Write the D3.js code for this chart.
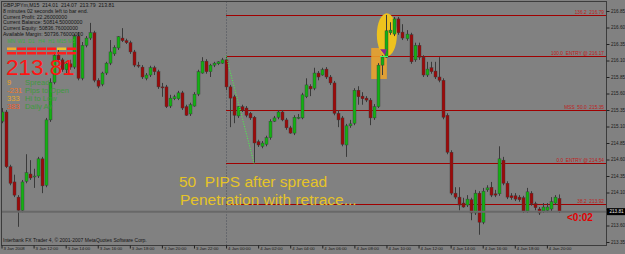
<!DOCTYPE html>
<html>
<head>
<meta charset="utf-8">
<script src="https://cdn.jsdelivr.net/npm/d3@7"></script>
<style>
html, body { margin: 0; padding: 0; background: #818181; }
svg { display: block; font-family: "Liberation Sans", Arial, sans-serif; }
text { white-space: pre; }
</style>
</head>
<body>
<svg id="chart" width="625" height="254"></svg>
<script>
// GBPJPYm M15 bars, 3 Jan 10:00 .. 4 Jan 20:45
var opens = [215.18,215.32,214.49,214.26,214.03,213.83,214.27,214.38,214.34,214.35,
  214.61,214.21,215.20,215.77,216.18,216.11,215.96,216.05,216.00,216.47,
  215.83,216.33,216.44,216.52,215.80,215.74,215.91,216.06,216.20,216.29,
  216.44,216.40,216.37,216.23,216.03,216.00,215.83,215.88,215.99,215.93,
  215.70,215.70,215.41,215.52,215.52,215.61,215.40,215.29,215.41,215.59,
  215.91,216.09,215.93,216.03,216.05,216.06,216.11,215.70,215.55,215.26,
  215.40,215.38,215.30,215.24,214.87,214.80,214.83,214.93,215.18,215.24,
  215.32,215.20,215.08,215.00,215.23,215.23,215.55,215.71,215.68,215.91,
  215.88,215.97,215.85,215.76,215.30,215.23,214.82,215.11,215.15,215.65,
  215.56,215.53,215.50,215.23,215.40,216.03,216.15,216.52,216.50,216.73,
  216.53,216.43,216.49,216.11,216.33,216.15,215.88,215.99,215.94,215.85,
  215.80,215.27,214.71,214.09,214.03,213.94,213.91,213.99,213.79,214.09,
  213.65,214.14,214.18,214.08,214.08,214.59,214.24,214.05,214.05,214.03,
  214.02,213.82,214.09,213.93,213.85,213.82,213.83,213.85,213.94,214.01];
var highs = [215.38,215.35,214.52,214.37,214.06,214.29,214.68,214.59,214.46,214.64,
  214.64,215.23,215.83,216.23,216.26,216.14,216.08,216.11,216.50,216.53,
  216.38,216.47,216.67,216.55,215.83,215.93,216.08,216.41,216.33,216.47,
  216.59,216.43,216.40,216.26,216.08,216.03,215.91,216.02,216.02,215.96,
  215.76,215.73,215.58,215.58,215.64,215.64,215.43,215.46,215.62,215.96,
  216.15,216.12,216.05,216.08,216.09,216.14,216.17,215.73,215.58,215.41,
  215.43,215.41,215.32,215.26,214.90,214.88,214.96,215.21,215.26,215.35,
  215.35,215.23,215.11,215.27,215.29,215.61,215.83,215.74,215.99,215.94,
  215.99,216.00,215.88,215.79,215.35,215.26,215.14,215.20,215.68,215.71,
  215.62,215.56,215.53,215.44,216.06,216.18,216.79,216.68,216.76,216.76,
  216.65,216.56,216.52,216.37,216.37,216.18,216.08,216.08,216.08,216.15,
  215.83,215.30,214.74,214.18,214.18,214.02,214.06,214.02,214.14,214.12,
  214.17,214.21,214.26,214.14,214.80,214.64,214.27,214.09,214.09,214.06,
  214.05,214.17,214.12,213.96,213.88,213.94,213.94,214.03,214.06,214.07];
var lows = [215.15,214.47,214.21,214.03,213.58,213.80,214.24,214.29,214.17,214.32,
  214.09,214.18,215.17,215.74,216.08,215.93,215.91,215.96,215.97,215.80,
  215.80,216.30,216.41,215.77,215.68,215.71,215.88,216.03,216.17,216.26,
  216.38,216.35,216.20,216.00,215.99,215.82,215.80,215.85,215.88,215.67,
  215.55,215.38,215.38,215.50,215.50,215.35,215.26,215.26,215.40,215.56,
  215.90,215.90,215.85,216.00,216.03,216.05,215.65,215.09,215.15,215.23,
  215.32,215.24,215.20,214.54,214.79,214.77,214.80,214.90,215.17,215.21,
  215.18,215.05,214.99,214.97,215.21,215.21,215.53,215.56,215.65,215.80,
  215.87,215.82,215.73,215.27,215.09,214.80,214.64,215.08,215.12,215.43,
  215.43,215.47,215.12,215.20,215.38,215.88,216.14,216.49,216.47,216.49,
  216.41,216.40,216.05,216.08,216.11,215.85,215.85,215.90,215.82,215.77,
  215.21,214.68,214.06,214.00,213.83,213.87,213.88,213.68,213.76,213.46,
  213.62,214.11,214.03,214.03,214.05,214.21,214.00,213.99,213.97,213.96,
  213.79,213.79,213.90,213.83,213.76,213.79,213.80,213.82,213.91,213.79];
var closes = [215.32,214.49,214.24,214.06,213.83,214.26,214.40,214.32,214.35,214.61,
  214.20,215.20,215.77,216.18,216.11,215.96,216.05,216.00,216.47,215.83,
  216.33,216.44,216.52,215.80,215.71,215.91,216.06,216.23,216.30,216.46,
  216.40,216.37,216.23,216.03,216.02,215.85,215.88,215.99,215.93,215.70,
  215.69,215.40,215.53,215.55,215.61,215.38,215.27,215.43,215.59,215.93,
  216.09,215.93,216.03,216.06,216.08,216.11,215.70,215.53,215.27,215.40,
  215.35,215.27,215.23,214.85,214.82,214.85,214.93,215.18,215.23,215.32,
  215.20,215.08,215.00,215.24,215.24,215.58,215.73,215.67,215.91,215.85,
  215.96,215.85,215.76,215.30,215.20,214.83,215.11,215.14,215.65,215.55,
  215.52,215.50,215.23,215.40,216.03,216.15,216.55,216.56,216.73,216.52,
  216.44,216.50,216.08,216.33,216.15,215.88,215.97,215.93,215.85,215.80,
  215.24,214.71,214.09,214.03,213.91,213.88,214.00,213.79,214.09,213.65,
  214.12,214.17,214.06,214.06,214.61,214.24,214.03,214.02,214.00,213.99,
  213.82,214.11,213.93,213.87,213.79,213.88,213.88,213.96,214.03,213.81];

var priceTicks = [216.85,216.60,216.35,216.10,215.85,215.60,215.35,215.10,214.85,214.60,214.35,214.10,213.85,213.60,213.35];
var timeTickBars = [0,8,16,24,32,40,48,56,64,72,80,88,96,104,112,120,128,136];
var timeLabels = ["3 Jan 2008","3 Jan 12:00","3 Jan 14:00","3 Jan 16:00","3 Jan 18:00","3 Jan 20:00","3 Jan 22:00",
  "4 Jan 00:00","4 Jan 02:00","4 Jan 04:00","4 Jan 06:00","4 Jan 08:00","4 Jan 10:00","4 Jan 12:00",
  "4 Jan 14:00","4 Jan 16:00","4 Jan 18:00","4 Jan 20:00"];

var fibLevels = [216.79, 216.17, 215.35, 214.54, 213.92];
var fibLabels = ["136.2  216.79", "100.0  ENTRY @ 216.17", "MSS  50.0  215.35", "0.0  ENTRY @ 214.54", "38.2  213.92"];
var fibStartBar = 56;

var infoLines = ["GBPJPYm,M15  214.01  214.07  213.79  213.81",
  "8 minutes 02 seconds left to bar end.",
  "Current Profit: 22.26000000",
  "Current Balance: 50814.50000000",
  "Current Equity: 50836.76000000",
  "Available Margin: 50736.76000000"];

var tfNames = ["MN","W1","D1","H4","H1","M15","M5"];
var tfRow1 = ["#f0a830","#ff1c1c","#ff1c1c","#ff1c1c","#ff1c1c","#f0c030","#ff1c1c"];
var tfRow2 = ["#ff1c1c","#ff1c1c","#ff1c1c","#ff1c1c","#ff1c1c","#ff1c1c","#ff1c1c"];

var statValues = ["9", "-231", "333", "383"];
var statNames = ["Spread", "Pips to Open", "Hi to Low", "Daily Av"];
var statColors = ["#f0a020", "#f07828", "#e8a828", "#f05a28"];

var svg = d3.select("#chart");
var plotL = 1.5, plotR = 606.5, plotT = 1.5, plotB = 245.5;

var x = d3.scaleLinear().domain([0, 139]).range([1.5, 1.5 + 4.01 * 139]);
var y = d3.scaleLinear().domain([213.35, 216.85]).range([242, 11]);
var lastY = y(closes[139]);

svg.append("rect").attr("width", 625).attr("height", 254).attr("fill", "#818181");

svg.append("defs").append("clipPath").attr("id", "plot")
  .append("rect").attr("x", plotL).attr("y", plotT).attr("width", plotR - plotL).attr("height", plotB - plotT);

var plot = svg.append("g").attr("clip-path", "url(#plot)");

// day separator
plot.append("line")
  .attr("x1", Math.round(x(fibStartBar)) + 0.5).attr("x2", Math.round(x(fibStartBar)) + 0.5)
  .attr("y1", plotT).attr("y2", plotB)
  .attr("stroke", "#4a4e58").attr("stroke-dasharray", "1,2");

// fibo levels
fibLevels.forEach(function(v, i) {
  var yy = Math.round(y(v)) + 0.5;
  plot.append("line")
    .attr("x1", x(fibStartBar)).attr("x2", plotR)
    .attr("y1", yy).attr("y2", yy)
    .attr("stroke", "#a00000").attr("stroke-width", 1);
  plot.append("text")
    .attr("x", plotR - 2.5).attr("y", yy - 1.5)
    .attr("text-anchor", "end")
    .attr("font-size", 4.8).attr("fill", "#c02020")
    .text(fibLabels[i]);
});

// highlight marks behind bars
plot.append("rect")
  .attr("x", x(92.2)).attr("y", y(216.29))
  .attr("width", x(96.1) - x(92.2)).attr("height", y(215.82) - y(216.29))
  .attr("fill", "#f0a428").attr("opacity", 0.85);
plot.append("ellipse")
  .attr("cx", x(96.1)).attr("cy", y(216.49))
  .attr("rx", (x(98.6) - x(93.6)) / 2).attr("ry", (y(216.15) - y(216.80)) / 2)
  .attr("fill", "#eec21e");

// left overlay texts
var info = svg.append("g");
infoLines.forEach(function(t, i) {
  info.append("text").attr("x", 3).attr("y", 7 + i * 5.8)
    .attr("font-size", 5.2).attr("fill", "#151515").text(t);
});
tfNames.forEach(function(t, i) {
  info.append("text").attr("x", 11.5 + i * 10).attr("y", 43)
    .attr("text-anchor", "middle").attr("font-size", 5).attr("fill", "#3cae3c").text(t);
  info.append("rect").attr("x", 7 + i * 10).attr("y", 47.5).attr("width", 9).attr("height", 2.5).attr("fill", tfRow1[i]);
  info.append("rect").attr("x", 7 + i * 10).attr("y", 52).attr("width", 9).attr("height", 2.5).attr("fill", tfRow2[i]);
});
info.append("text").attr("x", 6).attr("y", 74.5)
  .attr("font-size", 22.5).attr("fill", "#ff1414").text(d3.format(".2f")(closes[139]));
statValues.forEach(function(v, i) {
  info.append("text").attr("x", 7).attr("y", 85 + i * 8)
    .attr("font-size", 7.6).attr("fill", statColors[i]).text(v);
  info.append("text").attr("x", 25).attr("y", 85 + i * 8)
    .attr("font-size", 7.6).attr("fill", "#3f9a3f").text(statNames[i]);
});

// candles
var bars = plot.append("g").selectAll("g").data(closes).enter().append("g");
bars.append("line")
  .attr("x1", function(d, i) { return Math.round(x(i)) + 0.5; })
  .attr("x2", function(d, i) { return Math.round(x(i)) + 0.5; })
  .attr("y1", function(d, i) { return y(highs[i]); })
  .attr("y2", function(d, i) { return y(lows[i]); })
  .attr("stroke", "#3a3a3a").attr("stroke-width", 1);
bars.append("rect")
  .attr("x", function(d, i) { return Math.round(x(i)) - 1; })
  .attr("width", 3)
  .attr("y", function(d, i) { return y(Math.max(opens[i], d)); })
  .attr("height", function(d, i) { return Math.max(1, Math.abs(y(opens[i]) - y(d))); })
  .attr("fill", function(d, i) { return d >= opens[i] ? "#14b014" : "#9c0a0a"; })
  .attr("stroke", "#3a3a3a").attr("stroke-width", 0.4);

// bid line
plot.append("line")
  .attr("x1", plotL).attr("x2", plotR)
  .attr("y1", lastY).attr("y2", lastY)
  .attr("stroke", "#686868").attr("stroke-width", 2);

// trend line from entry high to the low
plot.append("line")
  .attr("x1", x(56)).attr("y1", y(216.17))
  .attr("x2", x(63)).attr("y2", y(214.54))
  .attr("stroke", "#44ff44").attr("stroke-width", 1).attr("stroke-dasharray", "1,1.5");

// entry marks
plot.append("path")
  .attr("d", "M" + x(94.4) + "," + y(216.27) + "L" + x(96.1) + "," + y(216.27) + "L" + x(95.6) + "," + y(216.18) + "Z")
  .attr("fill", "#8a2a92");
plot.append("line")
  .attr("x1", x(94.4)).attr("x2", x(96.4))
  .attr("y1", y(216.16)).attr("y2", y(216.16))
  .attr("stroke", "#3cff6a").attr("stroke-width", 1);

// annotation texts
plot.append("text").attr("x", 179).attr("y", 187)
  .attr("font-size", 15.5).attr("fill", "#e6c428").text("50  PIPS after spread");
plot.append("text").attr("x", 180).attr("y", 205)
  .attr("font-size", 15.5).attr("fill", "#e6c428").text("Penetration with retrace...");
plot.append("text").attr("x", 567).attr("y", 220.5)
  .attr("font-size", 10).attr("font-weight", "bold").attr("fill", "#e00000").text("<0:02");

svg.append("text").attr("x", 3).attr("y", 242)
  .attr("font-size", 5).attr("fill", "#151515")
  .text("Interbank FX Trader 4, \u00a9 2001-2007 MetaQuotes Software Corp.");

// frame
svg.append("rect").attr("x", plotL).attr("y", plotT).attr("width", plotR - plotL).attr("height", plotB - plotT)
  .attr("fill", "none").attr("stroke", "#3c3c3c");

// price axis (label hidden under the current-price box)
var yAxis = svg.append("g").attr("transform", "translate(" + plotR + ",0)")
  .call(d3.axisRight(y).tickValues(priceTicks).tickSize(3).tickPadding(1.5).tickFormat(d3.format(".2f")));
yAxis.select(".domain").remove();
yAxis.selectAll("line").attr("stroke", "#202020");
yAxis.selectAll("text").attr("font-size", 4.6).attr("fill", "#1a1a1a").attr("font-family", "Liberation Sans, Arial, sans-serif");
yAxis.selectAll(".tick").filter(function(d) { return Math.abs(y(d) - lastY) < 6; }).select("text").remove();

// current price box
svg.append("rect").attr("x", plotR + 0.5).attr("y", lastY - 3.5).attr("width", 18).attr("height", 7).attr("fill", "#000");
svg.append("text").attr("x", plotR + 3).attr("y", lastY + 1.7)
  .attr("font-size", 4.6).attr("fill", "#e8e8e8").text(d3.format(".2f")(closes[139]));

// time axis
var xAxis = svg.append("g").attr("transform", "translate(0," + plotB + ")")
  .call(d3.axisBottom(x).tickValues(timeTickBars).tickSize(3).tickFormat(function(d, i) { return timeLabels[i]; }));
xAxis.select(".domain").remove();
xAxis.selectAll("line").attr("stroke", "#202020");
xAxis.selectAll("text").attr("text-anchor", "start").attr("dx", 1.5).attr("dy", -1.5)
  .attr("font-size", 4.3).attr("fill", "#1a1a1a").attr("font-family", "Liberation Sans, Arial, sans-serif");
</script>
</body>
</html>
